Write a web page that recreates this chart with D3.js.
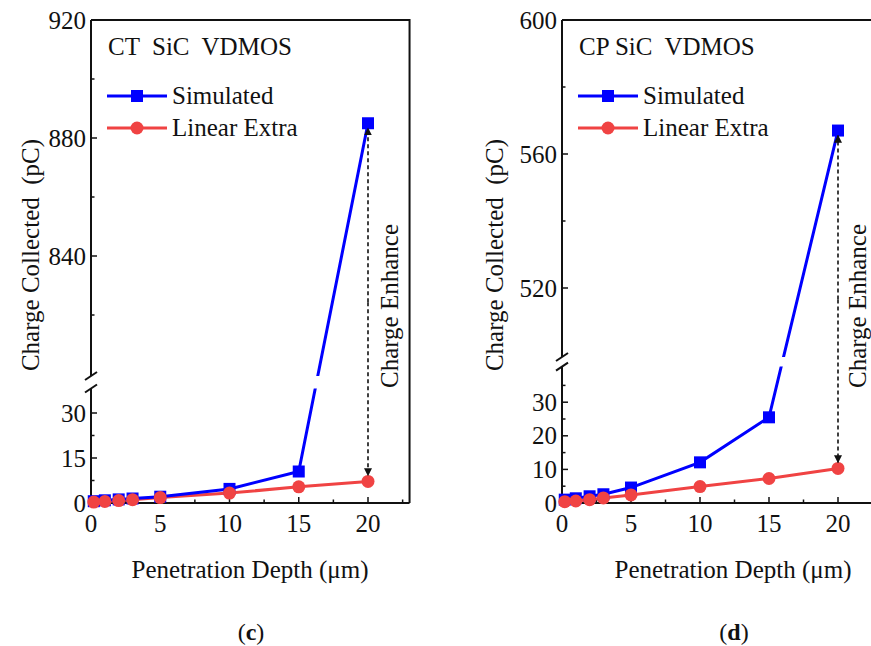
<!DOCTYPE html>
<html>
<head>
<meta charset="utf-8">
<script src="https://cdn.jsdelivr.net/npm/d3@7/dist/d3.min.js"></script>
<style>
  html, body { margin: 0; padding: 0; background: #fff; }
  svg { display: block; }
</style>
</head>
<body>
<svg id="chart" width="871" height="646"></svg>
<script>
// Penetration depth (µm)
const depth = [0.2, 1, 2, 3, 5, 10, 15, 20];

// Panel (c): CT SiC VDMOS, charge collected (pC)
const ctSimulated = [0.6, 0.9, 1.2, 1.5, 2.1, 4.7, 10.5, 885];
const ctLinear    = [0.3, 0.5, 0.8, 1.1, 1.8, 3.3, 5.4, 7.2];

// Panel (d): CP SiC VDMOS, charge collected (pC)
const cpSimulated = [1.0, 1.4, 2.0, 2.6, 4.6, 12.1, 25.5, 567];
const cpLinear    = [0.4, 0.6, 1.0, 1.5, 2.4, 4.9, 7.3, 10.3];

// Axis ticks
const xTicks = [0, 5, 10, 15, 20];
const xMinor = [2.5, 7.5, 12.5, 17.5, 22.5];
const ctLowTicks = [0, 15, 30], ctLowMinor = [7.5, 22.5];
const ctHighTicks = [840, 880, 920], ctHighMinor = [820, 860, 900];
const cpLowTicks = [0, 10, 20, 30], cpLowMinor = [5, 15, 25, 35];
const cpHighTicks = [520, 560, 600], cpHighMinor = [540, 580];

const BLUE = "#0000ff";
const RED = "#f04343";
const FONT = "Liberation Serif";
const FS = 25;

const svg = d3.select("#chart");

svg.append("defs").html(`
  <marker id="arrowHead" viewBox="0 0 10 10" refX="9" refY="5" markerWidth="8" markerHeight="11" markerUnits="userSpaceOnUse" orient="auto">
    <path d="M0,0 L10,5 L0,10 Z" fill="#111"/>
  </marker>`);

function txt(sel) {
  return sel.append("text").attr("font-family", FONT).attr("fill", "#111");
}

function drawPanel(cfg) {
  const g = svg.append("g");
  const x = d3.scaleLinear().domain([0, 23]).range([cfg.left, cfg.left + 23 * cfg.pxPerUnit]);
  const yLow = d3.scaleLinear().domain(cfg.lowDomain).range([cfg.bottom, cfg.lowTop]);
  const yHigh = d3.scaleLinear().domain(cfg.highDomain).range([cfg.highBottom, cfg.top]);
  const yPix = v => v >= cfg.highDomain[0] ? yHigh(v) : yLow(v);
  const right = x(23);

  // clip: plot area minus break band
  const clipId = "clip-" + cfg.id;
  const cp = svg.select("defs").append("clipPath").attr("id", clipId);
  cp.append("rect").attr("x", cfg.left).attr("y", cfg.top).attr("width", right - cfg.left).attr("height", cfg.highBottom - cfg.top + 2);
  cp.append("rect").attr("x", cfg.left).attr("y", cfg.lowTop - 2).attr("width", right - cfg.left).attr("height", cfg.bottom - cfg.lowTop + 2);

  // frame: top and right borders
  g.append("path")
    .attr("d", `M${cfg.left},${cfg.top} H${right} V${cfg.bottom}`)
    .attr("fill", "none").attr("stroke", "#111").attr("stroke-width", 2);

  // x axis
  g.append("line").attr("x1", cfg.left).attr("x2", right).attr("y1", cfg.bottom).attr("y2", cfg.bottom)
    .attr("stroke", "#111").attr("stroke-width", 2);
  g.append("g").selectAll("line").data(xTicks).join("line")
    .attr("x1", d => x(d)).attr("x2", d => x(d)).attr("y1", cfg.bottom).attr("y2", cfg.bottom - 6)
    .attr("stroke", "#111").attr("stroke-width", 1.5);
  g.append("g").selectAll("line").data(xMinor).join("line")
    .attr("x1", d => x(d)).attr("x2", d => x(d)).attr("y1", cfg.bottom).attr("y2", cfg.bottom - 3.5)
    .attr("stroke", "#111").attr("stroke-width", 1.5);
  const xl = g.append("g");
  xTicks.forEach(d => txt(xl).attr("x", x(d)).attr("y", cfg.bottom + 29)
    .attr("text-anchor", "middle").attr("font-size", FS).text(d));

  // y axis (broken)
  const ax = cfg.left;
  const upEnd = cfg.highBottom + 2, loStart = cfg.lowTop - 2;
  g.append("line").attr("x1", ax).attr("x2", ax).attr("y1", cfg.top).attr("y2", upEnd)
    .attr("stroke", "#111").attr("stroke-width", 2);
  g.append("line").attr("x1", ax).attr("x2", ax).attr("y1", loStart).attr("y2", cfg.bottom + 1)
    .attr("stroke", "#111").attr("stroke-width", 2);
  [upEnd, loStart].forEach(yy => {
    g.append("line").attr("x1", ax - 6).attr("y1", yy + 4).attr("x2", ax + 6).attr("y2", yy - 4)
      .attr("stroke", "#111").attr("stroke-width", 2);
  });
  const yTick = (vals, sc, len, lbl) => {
    g.append("g").selectAll("line").data(vals).join("line")
      .attr("x1", ax).attr("x2", ax + len).attr("y1", d => sc(d)).attr("y2", d => sc(d))
      .attr("stroke", "#111").attr("stroke-width", 1.5);
    if (lbl) {
      const lg = g.append("g");
      vals.forEach(d => txt(lg).attr("x", ax - 5).attr("y", sc(d) + 8.5)
        .attr("text-anchor", "end").attr("font-size", FS).text(d));
    }
  };
  yTick(cfg.lowTicks, yLow, 6, true);
  yTick(cfg.lowMinor, yLow, 3.5, false);
  yTick(cfg.highTicks, yHigh, 6, true);
  yTick(cfg.highMinor, yHigh, 3.5, false);

  // axis titles
  txt(g).attr("transform", `translate(${cfg.yTitleX},${cfg.yTitleY}) rotate(-90)`)
    .attr("text-anchor", "middle").attr("font-size", FS).style("white-space", "pre")
    .text("Charge Collected  (pC)");
  txt(g).attr("x", cfg.xTitleX).attr("y", 578)
    .attr("text-anchor", "middle").attr("font-size", 25).text("Penetration Depth (\u03bcm)");
  const tag = txt(g).attr("x", cfg.xTitleX + 1).attr("y", 640)
    .attr("text-anchor", "middle").attr("font-size", 24);
  tag.append("tspan").text("(");
  tag.append("tspan").attr("font-weight", "bold").text(cfg.tag);
  tag.append("tspan").text(")");

  // panel title
  txt(g).attr("x", cfg.left + 17).attr("y", 55).attr("font-size", FS)
    .style("white-space", "pre").text(cfg.title);

  // series
  const line = d3.line().x((d, i) => x(depth[i])).y(d => yPix(d));
  const lines = g.append("g").attr("clip-path", `url(#${clipId})`);
  lines.append("path").datum(cfg.linear).attr("d", line)
    .attr("fill", "none").attr("stroke", RED).attr("stroke-width", 3);
  lines.append("path").datum(cfg.simulated).attr("d", line)
    .attr("fill", "none").attr("stroke", BLUE).attr("stroke-width", 3);

  g.append("g").selectAll("rect").data(cfg.simulated).join("rect")
    .attr("x", (d, i) => x(depth[i]) - 6).attr("y", d => yPix(d) - 6)
    .attr("width", 12).attr("height", 12).attr("fill", BLUE);
  g.append("g").selectAll("circle").data(cfg.linear).join("circle")
    .attr("cx", (d, i) => x(depth[i])).attr("cy", d => yPix(d)).attr("r", 6.5).attr("fill", RED);

  // enhancement arrow at the last depth
  const last = depth.length - 1;
  const ax20 = x(depth[last]);
  const ySim = yPix(cfg.simulated[last]), yLin = yPix(cfg.linear[last]);
  const mid = (ySim + yLin) / 2;
  [[mid, ySim + 5], [mid, yLin - 6]].forEach(([a, b]) => {
    g.append("line").attr("x1", ax20).attr("x2", ax20).attr("y1", a).attr("y2", b)
      .attr("stroke", "#111").attr("stroke-width", 1.6).attr("stroke-dasharray", "4,3")
      .attr("marker-end", "url(#arrowHead)");
  });
  txt(g).attr("transform", `translate(${cfg.enhX},306) rotate(-90)`)
    .attr("text-anchor", "middle").attr("font-size", FS).text("Charge Enhance");

  // legend
  const leg = g.append("g");
  [[96, BLUE, "Simulated", "sq"], [128, RED, "Linear Extra", "ci"]].forEach(([ly, col, name, shp]) => {
    const lx = cfg.left + 16;
    leg.append("line").attr("x1", lx).attr("x2", lx + 60).attr("y1", ly).attr("y2", ly)
      .attr("stroke", col).attr("stroke-width", 3);
    if (shp === "sq") leg.append("rect").attr("x", lx + 24).attr("y", ly - 6).attr("width", 12).attr("height", 12).attr("fill", col);
    else leg.append("circle").attr("cx", lx + 30).attr("cy", ly).attr("r", 6.5).attr("fill", col);
    txt(leg).attr("x", lx + 65).attr("y", ly + 8).attr("font-size", FS).text(name);
  });
}

drawPanel({
  id: "c", tag: "c", title: "CT  SiC  VDMOS",
  left: 91, pxPerUnit: 13.85, top: 20, bottom: 503,
  lowDomain: [0, 37.5], lowTop: 390.5,
  highDomain: [800, 920], highBottom: 374,
  lowTicks: ctLowTicks, lowMinor: ctLowMinor, highTicks: ctHighTicks, highMinor: ctHighMinor,
  simulated: ctSimulated, linear: ctLinear,
  yTitleX: 39, yTitleY: 255, xTitleX: 250, enhX: 398
});

drawPanel({
  id: "d", tag: "d", title: "CP SiC  VDMOS",
  left: 562, pxPerUnit: 13.8, top: 20, bottom: 503,
  lowDomain: [0, 40], lowTop: 368.6,
  highDomain: [500, 600], highBottom: 355,
  lowTicks: cpLowTicks, lowMinor: cpLowMinor, highTicks: cpHighTicks, highMinor: cpHighMinor,
  simulated: cpSimulated, linear: cpLinear,
  yTitleX: 503, yTitleY: 255, xTitleX: 733, enhX: 866
});
</script>
</body>
</html>
